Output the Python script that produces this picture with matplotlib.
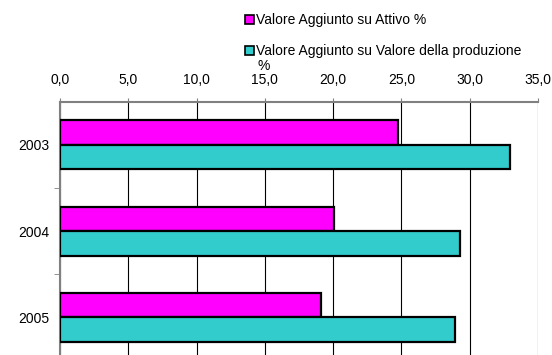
import numpy as np
import matplotlib.pyplot as plt
from matplotlib.patches import Patch
from matplotlib.ticker import FuncFormatter, FixedLocator

plt.rcParams['font.family'] = ['Liberation Sans', 'DejaVu Sans']

years = ["2003", "2004", "2005"]
va_attivo = [24.75, 20.07, 19.12]
va_produzione = [32.94, 29.26, 28.92]
series_labels = ["Valore Aggiunto su Attivo %",
                 "Valore Aggiunto su Valore della produzione"]
label_wrap = "%"  # second legend label wraps onto a new line
colors = ["#FF00FF", "#33CCCC"]

fig = plt.figure(figsize=(5.52, 3.55), dpi=100)
# plot area runs a bit past the bottom edge, like the original
ax = fig.add_axes([60 / 552, -5.6 / 355, 478 / 552, 258.9 / 355])

y = np.arange(len(years))
h = 0.284
ax.barh(y - h / 2, va_attivo, height=h, color=colors[0], edgecolor="black",
        linewidth=1.6, zorder=3)
ax.barh(y + h / 2, va_produzione, height=h, color=colors[1], edgecolor="black",
        linewidth=1.6, zorder=3)

ax.set_xlim(0, 35)
ax.set_ylim(2.5, -0.5)
ax.set_xticks(np.arange(0, 36, 5))
ax.xaxis.set_major_formatter(FuncFormatter(lambda v, p: f"{v:.1f}".replace(".", ",")))
ax.xaxis.tick_top()
ax.tick_params(axis="x", length=3, color="#808080", labelsize=10, pad=7.5)
ax.grid(axis="x", color="black", linewidth=0.8, zorder=0)

ax.set_yticks(y)
ax.set_yticklabels(years)
ax.yaxis.set_minor_locator(FixedLocator([0.5, 1.5]))
ax.tick_params(axis="y", which="major", length=0, labelsize=10, pad=8)
ax.tick_params(axis="y", which="minor", length=4, color="#808080")

for s in ["right", "bottom"]:
    ax.spines[s].set_visible(False)
for s in ["top", "left"]:
    ax.spines[s].set_color("#808080")
    ax.spines[s].set_linewidth(1.5)

handles = [Patch(facecolor=c, edgecolor="black", linewidth=1.2) for c in colors]
fig.legend(handles, series_labels, loc="upper left",
           bbox_to_anchor=(245 / 552, 1 - 13 / 355), frameon=False,
           fontsize=10, handlelength=0.62, handleheight=0.62,
           handletextpad=0.2, borderpad=0, borderaxespad=0, labelspacing=1.25)
fig.text(257 / 552, 1 - 66.5 / 355, label_wrap, fontsize=10, va="center", ha="left")

fig.savefig("out.png", dpi=100)
